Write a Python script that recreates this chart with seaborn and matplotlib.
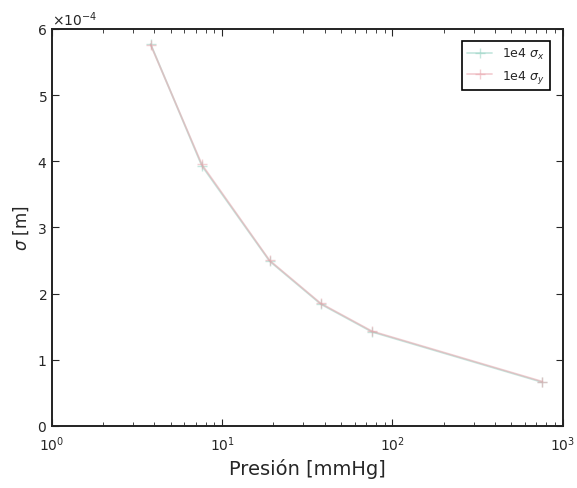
import matplotlib
matplotlib.use("Agg")
import matplotlib.pyplot as plt
import seaborn as sns
import pandas as pd
from matplotlib.ticker import ScalarFormatter

presion = [3.8, 7.6, 19, 38, 76, 760]
sigma_x = [5.77e-4, 3.93e-4, 2.49e-4, 1.84e-4, 1.42e-4, 0.66e-4]
sigma_y = [5.76e-4, 3.95e-4, 2.50e-4, 1.85e-4, 1.43e-4, 0.67e-4]
series_labels = [r"1e4 $\sigma_x$", r"1e4 $\sigma_y$"]
colors = ["#8fd0c0", "#e8a0a8"]

df = pd.DataFrame({
    "p": presion * 2,
    "s": sigma_x + sigma_y,
    "serie": [series_labels[0]] * len(presion) + [series_labels[1]] * len(presion),
})

sns.set_style("ticks")
plt.rcParams["font.family"] = ["DejaVu Sans"]
plt.rcParams["xtick.direction"] = "in"
plt.rcParams["ytick.direction"] = "in"

fig = plt.figure(figsize=(5.77, 4.89), dpi=100)
ax = fig.add_axes([0.09, 0.127, 0.885, 0.812])

sns.lineplot(data=df, x="p", y="s", hue="serie", palette=colors, marker="+",
             markersize=7, linewidth=1.3, alpha=0.5,
             ax=ax, legend=True)
for ln in ax.lines:
    ln.set_markeredgecolor(ln.get_color())
    ln.set_markeredgewidth(1.0)

ax.set_xscale("log")
ax.set_xlim(1, 1000)
ax.set_ylim(0, 6e-4)
ax.set_yticks([i * 1e-4 for i in range(7)])
fmt = ScalarFormatter(useMathText=True)
fmt.set_powerlimits((0, 0))
ax.yaxis.set_major_formatter(fmt)
ax.yaxis.get_offset_text().set_fontsize(10)

ax.tick_params(which="both", top=True, right=True, direction="in", labelsize=10)
ax.tick_params(which="major", length=5)
ax.tick_params(which="minor", length=3)
ax.tick_params(axis="x", pad=6)
for sp in ax.spines.values():
    sp.set_linewidth(1.4)
    sp.set_color("#222222")

ax.set_xlabel("Presión [mmHg]", fontsize=14)
ax.set_ylabel(r"$\sigma$ [m]", fontsize=12)

leg = ax.legend(loc="upper right", fontsize=9, fancybox=False, framealpha=1,
                edgecolor="black", title=None, borderaxespad=1.0)
leg.get_frame().set_linewidth(1.2)
for h in leg.legend_handles:
    h.set_markeredgecolor(h.get_color())

fig.savefig("out.png", dpi=100)
